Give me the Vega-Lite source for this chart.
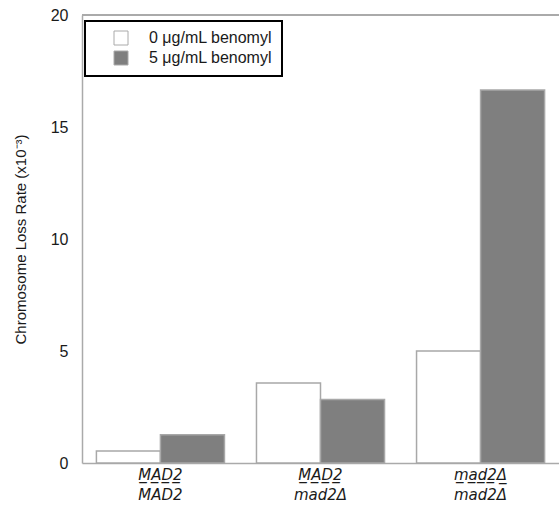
{
  "$schema": "https://vega.github.io/schema/vega-lite/v6.json",
  "autosize": "none",
  "padding": {"left": 82, "top": 15, "right": 0, "bottom": 44},
  "width": 477,
  "height": 448,
  "background": "white",
  "config": {
    "view": {"stroke": null},
    "font": "Liberation Sans"
  },
  "data": {
    "values": [
      {"genotype": "g1", "dose": "0 \u03bcg/mL benomyl", "rate": 0.54},
      {"genotype": "g1", "dose": "5 \u03bcg/mL benomyl", "rate": 1.26},
      {"genotype": "g2", "dose": "0 \u03bcg/mL benomyl", "rate": 3.57},
      {"genotype": "g2", "dose": "5 \u03bcg/mL benomyl", "rate": 2.83},
      {"genotype": "g3", "dose": "0 \u03bcg/mL benomyl", "rate": 5.0},
      {"genotype": "g3", "dose": "5 \u03bcg/mL benomyl", "rate": 16.65}
    ]
  },
  "layer": [
    {
      "mark": {"type": "bar", "stroke": "#a8a8a8", "strokeWidth": 1.5},
      "encoding": {
        "x": {
          "field": "genotype",
          "type": "nominal",
          "sort": null,
          "scale": {"paddingInner": 0.2, "paddingOuter": 0.09},
          "axis": {
            "title": null,
            "labelAngle": 0,
            "ticks": false,
            "domain": true,
            "domainColor": "#aaaaaa",
            "domainWidth": 1.5,
            "labelExpr": "datum.value == 'g1' ? ['M\u0332A\u0332D\u03322\u0332', 'MAD2'] : datum.value == 'g2' ? ['M\u0332A\u0332D\u03322\u0332', 'mad2\u0394'] : ['m\u0332a\u0332d\u03322\u0332\u0394\u0332', 'mad2\u0394']",
            "labelFont": "DejaVu Sans",
            "labelFontSize": 15,
            "labelFontStyle": "italic",
            "labelColor": "#1a1a1a",
            "labelLineHeight": 20,
            "labelPadding": 4
          }
        },
        "xOffset": {"field": "dose", "type": "nominal", "sort": null, "scale": {"paddingInner": 0, "paddingOuter": 0}},
        "y": {
          "field": "rate",
          "type": "quantitative",
          "scale": {"domain": [0, 20], "nice": false},
          "axis": {
            "title": "Chromosome Loss Rate (x10\u207b\u00b3)",
            "titleFont": "Liberation Sans",
            "titleFontSize": 15,
            "titleFontWeight": "normal",
            "titleColor": "#1a1a1a",
            "titlePadding": 22,
            "values": [0, 5, 10, 15, 20],
            "grid": false,
            "ticks": false,
            "domain": true,
            "domainColor": "#aaaaaa",
            "domainWidth": 1.5,
            "labelFont": "Liberation Sans",
            "labelFontSize": 16,
            "labelColor": "#1a1a1a",
            "labelPadding": 14
          }
        },
        "fill": {
          "field": "dose",
          "type": "nominal",
          "sort": null,
          "scale": {"range": ["#ffffff", "#7f7f7f"]},
          "legend": {
            "title": null,
            "orient": "none",
            "legendX": 3,
            "legendY": 6,
            "fillColor": "white",
            "strokeColor": "black",
            "padding": 9,
            "symbolType": "square",
            "symbolSize": 196,
            "symbolStrokeColor": "#aaaaaa",
            "symbolStrokeWidth": 1,
            "symbolOffset": 19,
            "labelFont": "Liberation Sans",
            "labelFontSize": 16,
            "labelColor": "#1a1a1a",
            "labelOffset": 20,
            "rowPadding": 2,
            "encode": {"legend": {"update": {"strokeWidth": {"value": 2}}}}
          }
        }
      }
    },
    {
      "mark": {"type": "rule", "color": "#aaaaaa", "strokeWidth": 1.5},
      "encoding": {"y": {"datum": 20}}
    }
  ]
}
